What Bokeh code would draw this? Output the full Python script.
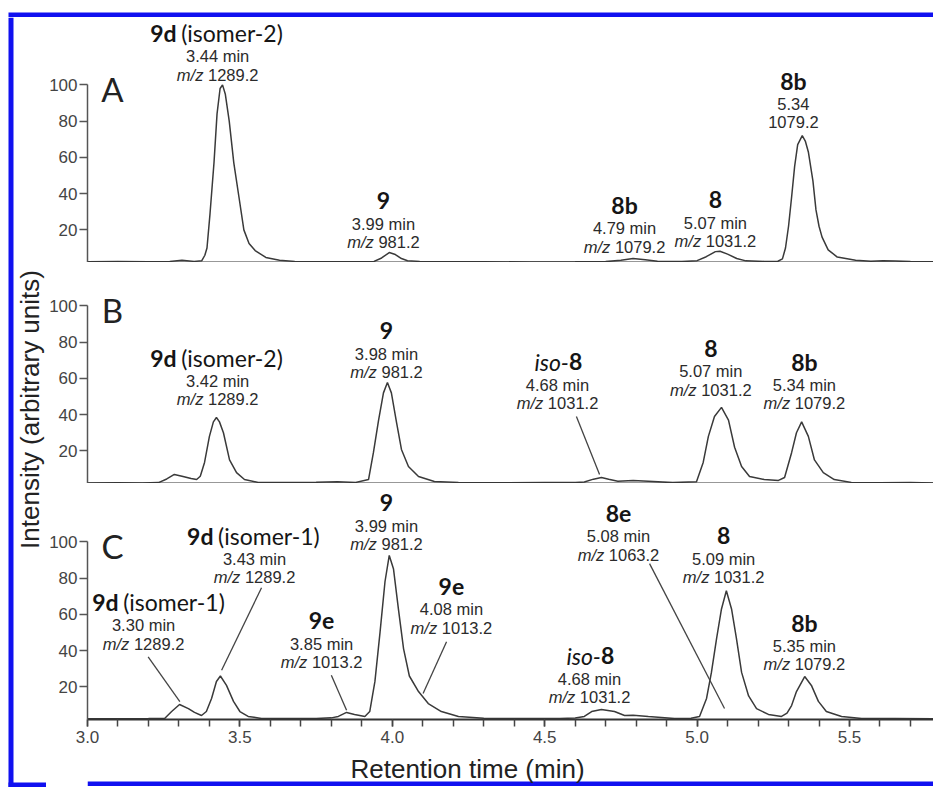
import math
from bokeh.plotting import figure
from bokeh.models import Range1d, LinearAxis, FixedTicker, SingleIntervalTicker, PrintfTickFormatter
from bokeh.layouts import column, row
from bokeh.core.properties import value
from bokeh.embed import file_html
from bokeh.resources import INLINE

# ---------------- data ----------------
a_time = [3.00, 3.10, 3.20, 3.27, 3.31, 3.35, 3.375, 3.385, 3.392, 3.402, 3.415, 3.425, 3.435, 3.443,
          3.452, 3.465, 3.48, 3.497, 3.513, 3.53, 3.55, 3.585, 3.63, 3.68, 3.76, 3.86, 3.94, 3.965,
          3.99, 4.01, 4.03, 4.05, 4.09, 4.16, 4.30, 4.45, 4.60, 4.70, 4.75, 4.79, 4.83, 4.87, 4.95,
          5.00, 5.03, 5.06, 5.075, 5.10, 5.13, 5.16, 5.22, 5.265, 5.28, 5.29, 5.30, 5.31, 5.32, 5.33,
          5.345, 5.355, 5.365, 5.38, 5.39, 5.40, 5.41, 5.43, 5.46, 5.52, 5.57, 5.61, 5.65, 5.70, 5.78]
a_int = [2.4, 2.5, 2.4, 2.6, 3.3, 2.6, 3.0, 6, 10, 29, 57, 84, 98, 100,
         95, 80, 57, 38, 20, 12.5, 8.6, 4.8, 3.2, 2.6, 2.4, 2.4, 2.6, 4.5,
         7.5, 6.4, 4.2, 3.0, 2.6, 2.4, 2.4, 2.3, 2.4, 2.5, 3.2, 4.2, 3.5, 2.7, 2.5,
         3.0, 5.2, 8.0, 8.2, 6.6, 4.2, 2.9, 2.6, 2.7, 4, 10, 22, 38, 55, 67,
         72, 69, 63, 47, 31, 22, 16, 9, 5, 3.2, 2.7, 3.0, 2.8, 2.5, 2.4]

b_time = [3.00, 3.10, 3.18, 3.233, 3.26, 3.285, 3.31, 3.34, 3.358, 3.37, 3.384, 3.40, 3.413, 3.423,
          3.433, 3.446, 3.466, 3.489, 3.515, 3.56, 3.65, 3.75, 3.82, 3.88, 3.922, 3.938, 3.955,
          3.971, 3.984, 3.997, 4.014, 4.03, 4.053, 4.086, 4.138, 4.217, 4.35, 4.50, 4.60, 4.63,
          4.66, 4.686, 4.71, 4.74, 4.79, 4.84, 4.92, 4.998, 5.02, 5.037, 5.057, 5.08, 5.103, 5.123,
          5.146, 5.172, 5.22, 5.267, 5.287, 5.31, 5.326, 5.343, 5.365, 5.385, 5.414, 5.45, 5.506,
          5.60, 5.70, 5.78]
b_int = [2.3, 2.4, 2.3, 2.5, 4.5, 7.0, 6.0, 4.8, 4.2, 6, 13.6, 28, 36, 38.4,
         36, 30, 15, 8, 4.2, 2.6, 2.5, 2.7, 2.9, 2.6, 4.2, 19, 37,
         52, 57.7, 52, 35.6, 20.8, 11.4, 5.9, 3.1, 2.6, 2.4, 2.6, 2.5, 2.8,
         4.4, 5.3, 4.3, 3.3, 3.6, 3.2, 2.5, 3.0, 13.6, 28, 39, 44, 37, 22,
         11.4, 5.9, 4.2, 3.7, 5.3, 19, 30, 36, 28, 15, 8, 4.2, 2.6,
         2.4, 2.6, 2.3]

c_time = [3.00, 3.10, 3.20, 3.253, 3.276, 3.302, 3.331, 3.351, 3.374, 3.39, 3.407, 3.423, 3.436,
          3.456, 3.479, 3.50, 3.527, 3.571, 3.65, 3.75, 3.80, 3.823, 3.85, 3.876, 3.91, 3.926,
          3.943, 3.96, 3.976, 3.99, 4.004, 4.02, 4.037, 4.056, 4.086, 4.118, 4.161, 4.217, 4.30,
          4.45, 4.55, 4.60, 4.63, 4.654, 4.686, 4.729, 4.762, 4.79, 4.84, 4.926, 4.98, 5.008, 5.031,
          5.047, 5.064, 5.08, 5.096, 5.113, 5.129, 5.146, 5.169, 5.195, 5.234, 5.277, 5.295, 5.31,
          5.326, 5.353, 5.375, 5.398, 5.424, 5.474, 5.54, 5.65, 5.78]
c_int = [2.4, 2.4, 2.5, 2.6, 6.4, 10.3, 8, 5.9, 4.2, 6.4, 13.6, 23, 26,
         20.8, 12, 6.4, 3.7, 2.6, 2.5, 2.6, 2.9, 3.7, 5.9, 4.8, 3.7, 6.4,
         23, 50.5, 78, 92.5, 85, 63, 41, 26, 17.4, 10.8, 6.4, 3.7, 2.7,
         2.5, 2.6, 2.8, 3.7, 6.4, 7.5, 6.4, 4.2, 4.4, 3.7, 2.6, 2.7, 3.7, 13.6,
         28, 46.7, 63, 73, 63, 46.7, 28, 15, 8, 4.8, 3.7, 5.5, 9.7,
         17.4, 25.7, 20.8, 12, 6.4, 3.7, 2.6, 2.5, 2.4]

y_ticks = [20, 40, 60, 80, 100]
panel_letters = ["A", "B", "C"]
x_title = "Retention time (min)"
y_title = "Intensity (arbitrary units)"

# peak labels: name parts, retention time text, m/z parts
labels_a = [
    ([("9d", "bold"), (" (isomer-2)", "normal")], "3.44 min", ("m/z", " 1289.2")),
    ([("9", "bold")], "3.99 min", ("m/z", " 981.2")),
    ([("8b", "bold")], "4.79 min", ("m/z", " 1079.2")),
    ([("8", "bold")], "5.07 min", ("m/z", " 1031.2")),
    ([("8b", "bold")], "5.34", (None, "1079.2")),
]
labels_b = [
    ([("9d", "bold"), (" (isomer-2)", "normal")], "3.42 min", ("m/z", " 1289.2")),
    ([("9", "bold")], "3.98 min", ("m/z", " 981.2")),
    ([("iso-", "italic"), ("8", "bold")], "4.68 min", ("m/z", " 1031.2")),
    ([("8", "bold")], "5.07 min", ("m/z", " 1031.2")),
    ([("8b", "bold")], "5.34 min", ("m/z", " 1079.2")),
]
labels_c = [
    ([("9d", "bold"), (" (isomer-1)", "normal")], "3.30 min", ("m/z", " 1289.2")),
    ([("9d", "bold"), (" (isomer-1)", "normal")], "3.43 min", ("m/z", " 1289.2")),
    ([("9e", "bold")], "3.85 min", ("m/z", " 1013.2")),
    ([("9", "bold")], "3.99 min", ("m/z", " 981.2")),
    ([("9e", "bold")], "4.08 min", ("m/z", " 1013.2")),
    ([("iso-", "italic"), ("8", "bold")], "4.68 min", ("m/z", " 1031.2")),
    ([("8e", "bold")], "5.08 min", ("m/z", " 1063.2")),
    ([("8", "bold")], "5.09 min", ("m/z", " 1031.2")),
    ([("8b", "bold")], "5.35 min", ("m/z", " 1079.2")),
]

# ---------------- layout (positions, not data) ----------------
PAGE_W = 933
PXPM = 304.8      # px per minute
PXPU = 1.8125     # px per intensity unit
LAB_W = 46        # includes the 8 px outer margin and the 5 px blue frame
LEFT = 40
FRAME_X0 = LAB_W + LEFT          # page x of the plot frames' left edge
FRAME_W = PAGE_W - FRAME_X0
X_END = 3.0 + FRAME_W / PXPM
NAME_UP = 23      # px from rt line to name line
MZ_DOWN = 18.5    # px from rt line to m/z line
FA, FB, FC = 245, 221, 236
XAX_H = 27
XLAB_H = 41
TOP_H = 17        # 12 px white + 5 px blue
BORDER = 5
BLUE = "#1010f0"
X_TITLE_PX = 466  # page x of the x-title centre

# (x centre, y of rt line, name x shift px)
pos_a = [(3.427, 115.7, 0), (3.971, 23.5, 0), (4.762, 20.8, 0), (5.060, 24.0, 0), (5.316, 89.7, 0)]
pos_b = [(3.427, 58.8, 0), (3.981, 73.7, 0), (4.542, 56.6, 0), (5.045, 63.8, 0), (5.352, 56.6, 0)]
pos_c = [(3.184, 53.9, 16), (3.548, 90.8, 0), (3.768, 43.9, 0), (3.981, 109.0, 0), (4.194, 62.7, 0),
         (4.647, 24.6, 0), (4.742, 103.0, 0), (5.087, 90.8, 0), (5.352, 42.8, 0)]
leaders_b = [(4.604, 39.0, 4.680, 7.0)]
leaders_c = [(3.199, 36.6, 3.303, 11.8), (3.571, 74.7, 3.440, 29.2), (3.800, 26.4, 3.850, 7.1),
             (4.178, 44.9, 4.101, 16.3), (4.844, 88.0, 5.090, 8.1)]

TXT = "#2b2b2b"
NAME_C = "#151515"
LINE = "#3a3a3a"
NAME_FONT = "Lato"
INFO_FONT = "Liberation Sans"
NAME_SIZE = 23
INFO_SIZE = 16.5

W_ARIAL = {**{d: .556 for d in "0123456789"}, ".": .278, " ": .278, "m": .833, "i": .222,
           "n": .556, "/": .278, "z": .5}
W_LATO = {**{d: .58 for d in "0123456789"}, " ": .2, "(": .31, ")": .31, "i": .23, "s": .41,
          "o": .57, "m": .86, "e": .54, "r": .37, "-": .36, "d": .59, "b": .59}


def tw(s, table, size):
    return sum(table.get(ch, .55) for ch in s) * size


def draw_two(p, xc, y, t1, t2, fam, sty1, sty2, size, table, color):
    gap = 0.0
    if t2.startswith(" "):
        gap = tw(" ", table, size)
        t2 = t2.lstrip()
    w1 = tw(t1, table, size)
    w2 = tw(t2, table, size)
    total = w1 + gap + w2
    split = xc + (w1 - total / 2) / PXPM
    p.text([split], [y], text=[t1], text_font=value(fam), text_font_style=sty1,
           text_font_size=f"{size}px", text_align="right", text_baseline="middle", text_color=color)
    p.text([split + gap / PXPM], [y], text=[t2], text_font=value(fam), text_font_style=sty2,
           text_font_size=f"{size}px", text_align="left", text_baseline="middle", text_color=color)


def draw_one(p, xc, y, t, fam, sty, size, color):
    p.text([xc], [y], text=[t], text_font=value(fam), text_font_style=sty,
           text_font_size=f"{size}px", text_align="center", text_baseline="middle", text_color=color)


def annotate(p, labels, positions):
    for (name, rt, mz), (xc, y, ndx) in zip(labels, positions):
        yn = y + NAME_UP / PXPU
        ym = y - MZ_DOWN / PXPU
        xn = xc + ndx / PXPM
        if len(name) == 1:
            draw_one(p, xn, yn, name[0][0], NAME_FONT, name[0][1], NAME_SIZE, NAME_C)
        else:
            draw_two(p, xn, yn, name[0][0], name[1][0], NAME_FONT, name[0][1], name[1][1],
                     NAME_SIZE, W_LATO, NAME_C)
        draw_one(p, xc, y, rt, INFO_FONT, "normal", INFO_SIZE, TXT)
        if mz[0] is None:
            draw_one(p, xc, ym, mz[1], INFO_FONT, "normal", INFO_SIZE, TXT)
        else:
            draw_two(p, xc, ym, mz[0], mz[1], INFO_FONT, "italic", "normal", INFO_SIZE, W_ARIAL, TXT)


def blank(w, h):
    f = figure(width=w, height=h, x_range=Range1d(0, w), y_range=Range1d(0, h),
               x_axis_type=None, y_axis_type=None, output_backend="svg", toolbar_location=None,
               min_border=0)
    f.outline_line_color = None
    f.background_fill_color = "white"
    f.border_fill_color = "white"
    return f


def strip(h):
    # a strip aligned with the panels' frames (same left border)
    f = figure(frame_width=FRAME_W, frame_height=h, x_range=Range1d(0, FRAME_W),
               y_range=Range1d(0, h), x_axis_type=None, y_axis_type=None, output_backend="svg",
               toolbar_location=None, min_border_left=LEFT, min_border_right=0,
               min_border_top=0, min_border_bottom=0)
    f.outline_line_color = None
    f.background_fill_color = "white"
    f.border_fill_color = "white"
    return f


def panel(frame_h, letter, is_bottom):
    p = figure(frame_width=FRAME_W, frame_height=frame_h,
               x_range=Range1d(3.0, X_END), y_range=Range1d(2, 2 + frame_h / PXPU),
               x_axis_type=None, y_axis_type=None, output_backend="svg", toolbar_location=None,
               min_border_left=LEFT, min_border_right=0, min_border_top=0, min_border_bottom=0)
    p.outline_line_color = None
    p.background_fill_color = "white"
    p.border_fill_color = "white"

    ya = LinearAxis(bounds=(2, 100), ticker=FixedTicker(ticks=y_ticks),
                    major_tick_out=8, major_tick_in=0, minor_tick_out=0, minor_tick_in=0,
                    major_label_standoff=2, axis_line_color="#555", axis_line_width=1.5,
                    major_tick_line_color="#555", major_tick_line_width=1.5,
                    major_label_text_font=INFO_FONT, major_label_text_font_size="17px",
                    major_label_text_color="#444")
    p.add_layout(ya, "left")

    if is_bottom:
        xa = LinearAxis(ticker=SingleIntervalTicker(interval=0.5, num_minor_ticks=5),
                        formatter=PrintfTickFormatter(format="%.1f"),
                        major_tick_out=7, major_tick_in=0, minor_tick_out=7, minor_tick_in=0,
                        major_label_standoff=4, axis_line_color="#333", axis_line_width=2,
                        major_tick_line_color="#444", major_tick_line_width=1.5,
                        minor_tick_line_color="#444", minor_tick_line_width=1.5,
                        major_label_text_font=INFO_FONT, major_label_text_font_size="17px",
                        major_label_text_color="#444")
    else:
        xa = LinearAxis(ticker=FixedTicker(ticks=[]), major_tick_out=0, major_tick_in=0,
                        minor_tick_out=0, minor_tick_in=0, major_label_standoff=0,
                        major_label_text_font_size="0px", axis_line_color="#333",
                        axis_line_width=2)
    p.add_layout(xa, "below")

    p.text([3.082], [98.0], text=[letter], text_font=value(NAME_FONT), text_font_size="33px",
           text_align="center", text_baseline="middle", text_color="#222")
    return p


pa = panel(FA, panel_letters[0], False)
pa.line(a_time, a_int, line_color=LINE, line_width=1.5)
annotate(pa, labels_a, pos_a)

pb = panel(FB, panel_letters[1], False)
pb.line(b_time, b_int, line_color=LINE, line_width=1.5)
pb.segment([l[0] for l in leaders_b], [l[1] for l in leaders_b],
           [l[2] for l in leaders_b], [l[3] for l in leaders_b], line_color="#444", line_width=1.3)
annotate(pb, labels_b, pos_b)

pc = panel(FC, panel_letters[2], True)
pc.line(c_time, c_int, line_color=LINE, line_width=1.5)
pc.segment([l[0] for l in leaders_c], [l[1] for l in leaders_c],
           [l[2] for l in leaders_c], [l[3] for l in leaders_c], line_color="#444", line_width=1.3)
annotate(pc, labels_c, pos_c)

# x-axis title strip (frame-aligned with the panels), holding the bottom edge of the blue frame
xlab = strip(XLAB_H)
xlab.quad(left=[0], right=[FRAME_W], bottom=[0], top=[BORDER], fill_color=BLUE, line_color=None)
xlab.text([X_TITLE_PX - FRAME_X0], [XLAB_H - 23], text=[x_title], text_font=value(INFO_FONT),
          text_font_size="26px", text_align="center", text_baseline="middle", text_color="#222")

# left strip: blue frame edge + y-axis title
H = FA + FB + FC + XAX_H + XLAB_H
lab = blank(LAB_W, H)
lab.quad(left=[8], right=[8 + BORDER], bottom=[0], top=[H], fill_color=BLUE, line_color=None)
lab.quad(left=[8], right=[LAB_W], bottom=[0], top=[BORDER], fill_color=BLUE, line_color=None)
lab.text([29], [H - (409 - TOP_H)], text=[y_title], text_font=value(INFO_FONT),
         text_font_size="26px", angle=math.pi / 2, text_align="center", text_baseline="middle",
         text_color="#222")

# top edge of the blue frame
top = blank(PAGE_W, TOP_H)
top.quad(left=[8], right=[PAGE_W], bottom=[0], top=[BORDER], fill_color=BLUE, line_color=None)

inner = column(pa, pb, pc, xlab)
layout = column(top, row(lab, inner))

open("out.html", "w").write(file_html(layout, INLINE))
